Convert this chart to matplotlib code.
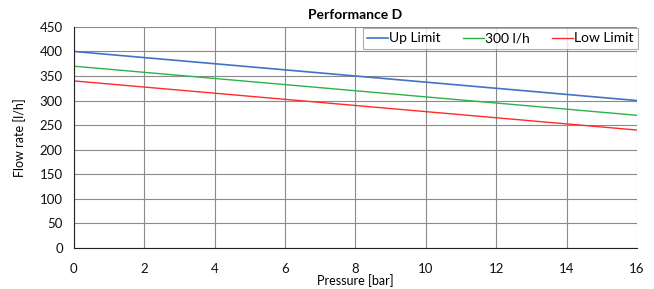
import matplotlib
matplotlib.use('Agg')
import matplotlib.pyplot as plt

pressure = [0, 16]
up_limit = [400, 300]
nominal = [370, 270]
low_limit = [340, 240]

plt.rcParams['font.family'] = ['Lato', 'DejaVu Sans']

fig = plt.figure(figsize=(6.54, 2.89), dpi=100)
ax = fig.add_axes([0.113, 0.142, 0.861, 0.765])

ax.plot(pressure, up_limit, color='#4472C4', lw=1.2, label='Up Limit')
ax.plot(pressure, nominal, color='#2CB34A', lw=1.0, label='300 l/h')
ax.plot(pressure, low_limit, color='#FF2A2A', lw=1.0, label='Low Limit')

ax.set_xlim(0, 16)
ax.set_ylim(0, 450)
ax.set_xticks(range(0, 17, 2))
ax.set_yticks(range(0, 451, 50))
ax.grid(True, color='#8a8a8a', lw=0.8)
ax.set_axisbelow(True)
for side in ['top', 'right']:
    ax.spines[side].set_visible(False)
ax.spines['left'].set_color('#222222')
ax.spines['bottom'].set_color('#222222')
ax.tick_params(length=0, labelsize=9.5, colors='#111111')
ax.tick_params(axis='x', pad=11)
ax.tick_params(axis='y', pad=8)

ax.set_title('Performance D', fontsize=10, fontweight='bold', pad=6)
ax.set_xlabel('Pressure [bar]', fontsize=9, labelpad=-1)
ax.set_ylabel('Flow rate [l/h]', fontsize=9, labelpad=10)

leg = ax.legend(loc='upper right', ncol=3, fontsize=10, frameon=True, fancybox=False,
                handlelength=1.5, handletextpad=0.1, columnspacing=1.6,
                borderaxespad=0.1, borderpad=0.3, bbox_to_anchor=(1.004, 1.0))
leg.get_frame().set_edgecolor('#999999')
leg.get_frame().set_linewidth(0.8)

fig.savefig('out.png', dpi=100)
